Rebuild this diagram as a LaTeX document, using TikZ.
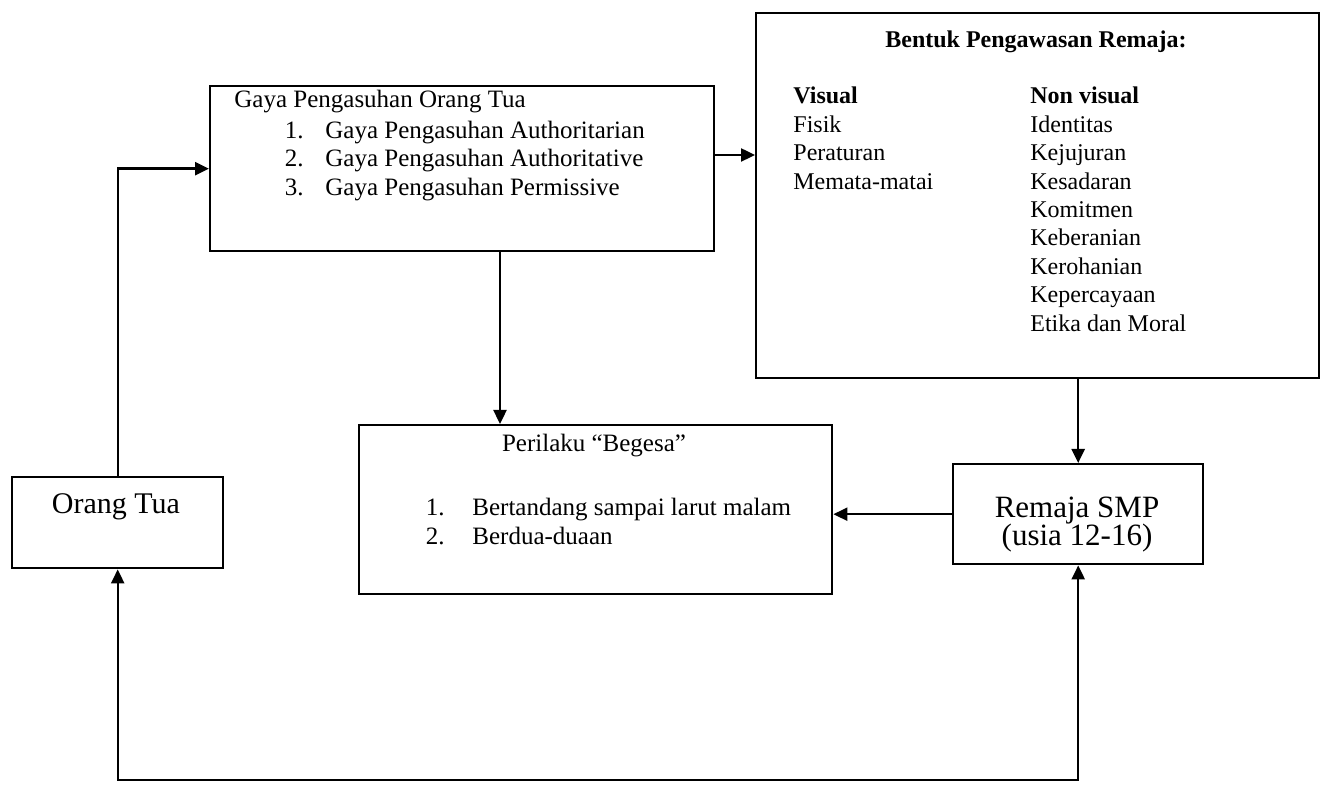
\documentclass[tikz,border=0pt]{standalone}
\usepackage{fontspec}
\setmainfont{Liberation Serif}
\usetikzlibrary{arrows.meta}

\begin{document}
\begin{tikzpicture}[x=0.5pt,y=-0.5pt,
  box/.style={draw,line width=1.2pt,inner sep=0pt,anchor=north west},
  txt/.style={inner sep=0pt,font=\fontsize{12.5}{14}\selectfont},
  arr/.style={line width=1.2pt,-{Triangle[length=7pt,width=6.5pt]}},
  arrboth/.style={line width=1.2pt,{Triangle[length=7pt,width=6.5pt]}-{Triangle[length=7pt,width=6.5pt]}}]
\useasboundingbox (0,0) rectangle (1323,785);
\node[box,minimum width=105.5pt,minimum height=45.5pt] (orangtua) at (11,476) {};
\node[box,minimum width=252pt,minimum height=82.5pt] (gaya) at (209,85) {};
\node[box,minimum width=281.5pt,minimum height=182.5pt] (bentuk) at (755,12) {};
\node[box,minimum width=236.5pt,minimum height=84.5pt] (perilaku) at (358,424) {};
\node[box,minimum width=125pt,minimum height=50pt] (remaja) at (952,463) {};
\node[txt,anchor=base,font=\fontsize{15}{17}\selectfont] (otlabel) at (116,514) {Orang Tua};
\node[txt,anchor=base,font=\fontsize{15.5}{17}\selectfont] (rlabel1) at (1077,518) {Remaja SMP};
\node[txt,anchor=base,font=\fontsize{15.5}{17}\selectfont] (rlabel2) at (1077,546) {(usia 12-16)};
\node[txt,anchor=base west] (gtitle) at (234,108) {Gaya Pengasuhan Orang Tua};
\foreach \t [count=\i] in {Authoritarian,Authoritative,Permissive} {
  \node[txt,anchor=base east] (gnum\i) at ({304},{110+28.5*\i}) {\i.};
  \node[txt,anchor=base west] (gitem\i) at ({325},{110+28.5*\i}) {Gaya Pengasuhan \t};
}
\node[txt,anchor=base,font=\fontsize{12}{14}\selectfont\bfseries] (btitle) at (1036,48) {Bentuk Pengawasan Remaja:};
\node[txt,anchor=base west,font=\fontsize{12}{14}\selectfont\bfseries] (vhead) at (793,104) {Visual};
\node[txt,anchor=base west,font=\fontsize{12}{14}\selectfont\bfseries] (nvhead) at (1030,104) {Non visual};
\foreach \t [count=\i] in {Fisik,Peraturan,Memata-matai}
  \node[txt,anchor=base west,font=\fontsize{12}{14}\selectfont] (v\i) at ({793},{104+28.4*\i}) {\t};
\foreach \t [count=\i] in {Identitas,Kejujuran,Kesadaran,Komitmen,Keberanian,Kerohanian,Kepercayaan,Etika dan Moral}
  \node[txt,anchor=base west,font=\fontsize{12}{14}\selectfont] (nv\i) at ({1030},{104+28.4*\i}) {\t};
\node[txt,anchor=base] (ptitle) at (594,452) {Perilaku “Begesa”};
\node[txt,anchor=base east] (pnum1) at (445,516) {1.};
\node[txt,anchor=base west] (pitem1) at (472,516) {Bertandang sampai larut malam};
\node[txt,anchor=base east] (pnum2) at (445,545) {2.};
\node[txt,anchor=base west] (pitem2) at (472,545) {Berdua-duaan};
\coordinate (lvlA) at (0,155);
\coordinate (colA) at (500,0);
\coordinate (bot) at (0,780);
\draw[arr] (orangtua.north) |- (gaya.west);
\draw[arr] (gaya.east |- lvlA) -- (bentuk.west |- lvlA);
\draw[arr] (gaya.south -| colA) -- (perilaku.north -| colA);
\draw[arr] (bentuk.south -| remaja.north) -- (remaja.north);
\draw[arr] (remaja.west) -- (remaja.west -| perilaku.east);
\draw[arrboth] (orangtua.south) -- (orangtua.south |- bot) -- (remaja.south |- bot) -- (remaja.south);
\end{tikzpicture}
\end{document}
